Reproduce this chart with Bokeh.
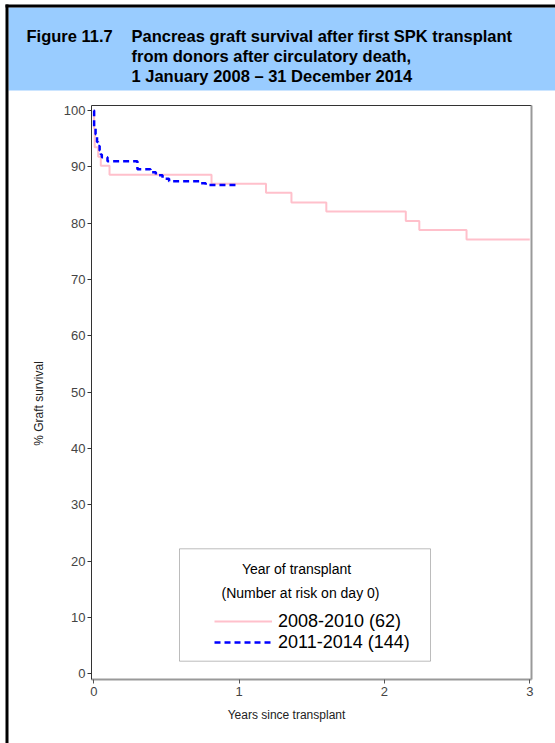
import math
from bokeh.plotting import figure
from bokeh.models import (Range1d, LinearAxis, FixedTicker, Label, BoxAnnotation,
                          Legend, LegendItem, ColumnDataSource)
from bokeh.embed import file_html
from bokeh.resources import INLINE

# ---------------- data ----------------
figure_label = "Figure 11.7"
title_lines = ["Pancreas graft survival after first SPK transplant",
               "from donors after circulatory death,",
               "1 January 2008 \u2013 31 December 2014"]
x_label = "Years since transplant"
y_label = "% Graft survival"
legend_title = "Year of transplant"
legend_subtitle = "(Number at risk on day 0)"
series_names = ["2008-2010 (62)", "2011-2014 (144)"]
x_ticks = [0, 1, 2, 3]
y_ticks = [0, 10, 20, 30, 40, 50, 60, 70, 80, 90, 100]

# 2008-2010 (pink): years since transplant / % graft survival
years_a = [0, 0.002, 0.006, 0.03, 0.048, 0.108, 0.81, 1.185, 1.36, 1.60, 2.147, 2.24, 2.565, 3.0]
surv_a = [100, 96.8, 93.5, 91.8, 90.2, 88.6, 87.0, 85.4, 83.7, 82.1, 80.4, 78.8, 77.1, 77.1]

# 2011-2014 (blue dashed)
years_b = [0, 0.002, 0.012, 0.022, 0.030, 0.040, 0.048, 0.055, 0.094, 0.30, 0.39, 0.427,
           0.473, 0.518, 0.725, 0.77, 0.99]
surv_b = [100, 97.2, 95.8, 94.4, 93.7, 92.9, 92.2, 91.7, 91.0, 89.6, 89.05, 88.5,
          87.9, 87.45, 87.1, 86.8, 86.8]

FONT = "Liberation Sans"

# ---------------- geometry (page pixels) ----------------
W, H = 555, 743
FL, FR, FT, FB = 91, 531, 105, 679   # edges of the plotting box on the page
X0, X1 = -0.016, 3.012               # data extent of the plotting box
Y0, Y1 = -1.0, 100.9


def dx(px):
    return X0 + (px - FL) * (X1 - X0) / (FR - FL)


def dy(py):
    return Y0 + (FB - py) * (Y1 - Y0) / (FB - FT)


p = figure(width=W, height=H, x_range=Range1d(dx(0), dx(W)), y_range=Range1d(dy(H), dy(0)),
           output_backend="svg", toolbar_location=None, title=None, min_border=0)
p.outline_line_color = None
p.background_fill_color = "white"
p.border_fill_color = "white"
p.xgrid.visible = False
p.ygrid.visible = False

# ---------------- header ----------------
p.add_layout(BoxAnnotation(left=dx(8), right=dx(W), top=dy(7), bottom=dy(90),
                           fill_color="#99CCFF", fill_alpha=1.0, line_color=None))
p.add_layout(BoxAnnotation(left=dx(5), right=dx(8), top=dy(4), bottom=dy(H),
                           fill_color="black", fill_alpha=1.0, line_color=None))
p.add_layout(BoxAnnotation(left=dx(5), right=dx(W), top=dy(4), bottom=dy(7),
                           fill_color="black", fill_alpha=1.0, line_color=None))
p.add_layout(Label(x=dx(26), y=dy(35.5), text=figure_label, text_font=FONT,
                   text_font_style="bold", text_font_size="16.5px", text_baseline="alphabetic",
                   text_align="left", text_color="black"))
for line, base in zip(title_lines, [35.5, 55.5, 75.5]):
    p.add_layout(Label(x=dx(131), y=dy(base), text=line, text_font=FONT,
                       text_font_style="bold", text_font_size="16.5px",
                       text_baseline="alphabetic", text_align="left", text_color="black"))

# ---------------- axes (fixed at the plotting box edges) ----------------
xa = p.xaxis[0]
ya = p.yaxis[0]
xa.ticker = FixedTicker(ticks=x_ticks)
ya.ticker = FixedTicker(ticks=y_ticks)
xa.fixed_location = Y0
ya.fixed_location = X0
xa.bounds = (X0, X1)
ya.bounds = (Y0, Y1)
for ax in (xa, ya):
    ax.major_tick_in = 0
    ax.major_tick_out = 4
    ax.minor_tick_line_color = None
    ax.major_label_text_font = FONT
    ax.major_label_text_font_size = "13px"
    ax.major_label_text_color = "#444444"
ya.axis_line_color = "#333333"
ya.axis_line_width = 1
ya.major_tick_line_color = "#333333"
ya.major_label_standoff = 2
xa.axis_line_color = "#999999"
xa.axis_line_width = 2
xa.major_tick_line_color = "#555555"
xa.major_label_standoff = 3

top_ax = LinearAxis(ticker=FixedTicker(ticks=[]), fixed_location=Y1, bounds=(X0, X1),
                    axis_line_color="#333333", axis_line_width=1,
                    major_tick_line_color=None, minor_tick_line_color=None)
p.add_layout(top_ax, "above")
right_ax = LinearAxis(ticker=FixedTicker(ticks=[]), fixed_location=X1, bounds=(Y0, Y1),
                      axis_line_color="#999999", axis_line_width=2,
                      major_tick_line_color=None, minor_tick_line_color=None)
p.add_layout(right_ax, "right")

p.add_layout(Label(x=dx(38), y=dy(403), text=y_label, angle=math.pi / 2, text_align="center",
                   text_baseline="middle", text_font=FONT, text_font_size="12px",
                   text_color="#222222"))
p.add_layout(Label(x=dx(286), y=dy(714), text=x_label, text_align="center",
                   text_baseline="middle", text_font=FONT, text_font_size="12px",
                   text_color="#222222"))

# ---------------- curves ----------------
src_a = ColumnDataSource(dict(t=years_a, s=surv_a))
src_b = ColumnDataSource(dict(t=years_b, s=surv_b))
ra = p.step(x="t", y="s", source=src_a, mode="after", line_color="#FFC0CB", line_width=2)
rb = p.step(x="t", y="s", source=src_b, mode="after", line_color="#0000FF", line_width=2.5,
            line_dash="6 4")

# ---------------- legend ----------------
p.add_layout(BoxAnnotation(left=dx(179), right=dx(430), top=dy(548.3), bottom=dy(660.7),
                           fill_color="white", fill_alpha=1.0, line_color="#222222",
                           line_width=1))
p.add_layout(Label(x=dx(296), y=dy(568), text=legend_title, text_align="center",
                   text_baseline="middle", text_font=FONT, text_font_size="14px",
                   text_color="black"))
p.add_layout(Label(x=dx(300), y=dy(592.7), text=legend_subtitle, text_align="center",
                   text_baseline="middle", text_font=FONT, text_font_size="14px",
                   text_color="black"))

legend = Legend(items=[LegendItem(label=series_names[0], renderers=[ra]),
                       LegendItem(label=series_names[1], renderers=[rb])],
                location=(214, H - 652.5), orientation="vertical", border_line_color=None,
                background_fill_alpha=0, padding=0, margin=0, spacing=-3,
                glyph_width=58, glyph_height=20, label_height=20, label_standoff=6,
                label_text_font=FONT, label_text_font_size="18px", label_text_color="black")
p.add_layout(legend)

open("out.html", "w").write(file_html(p, INLINE))
